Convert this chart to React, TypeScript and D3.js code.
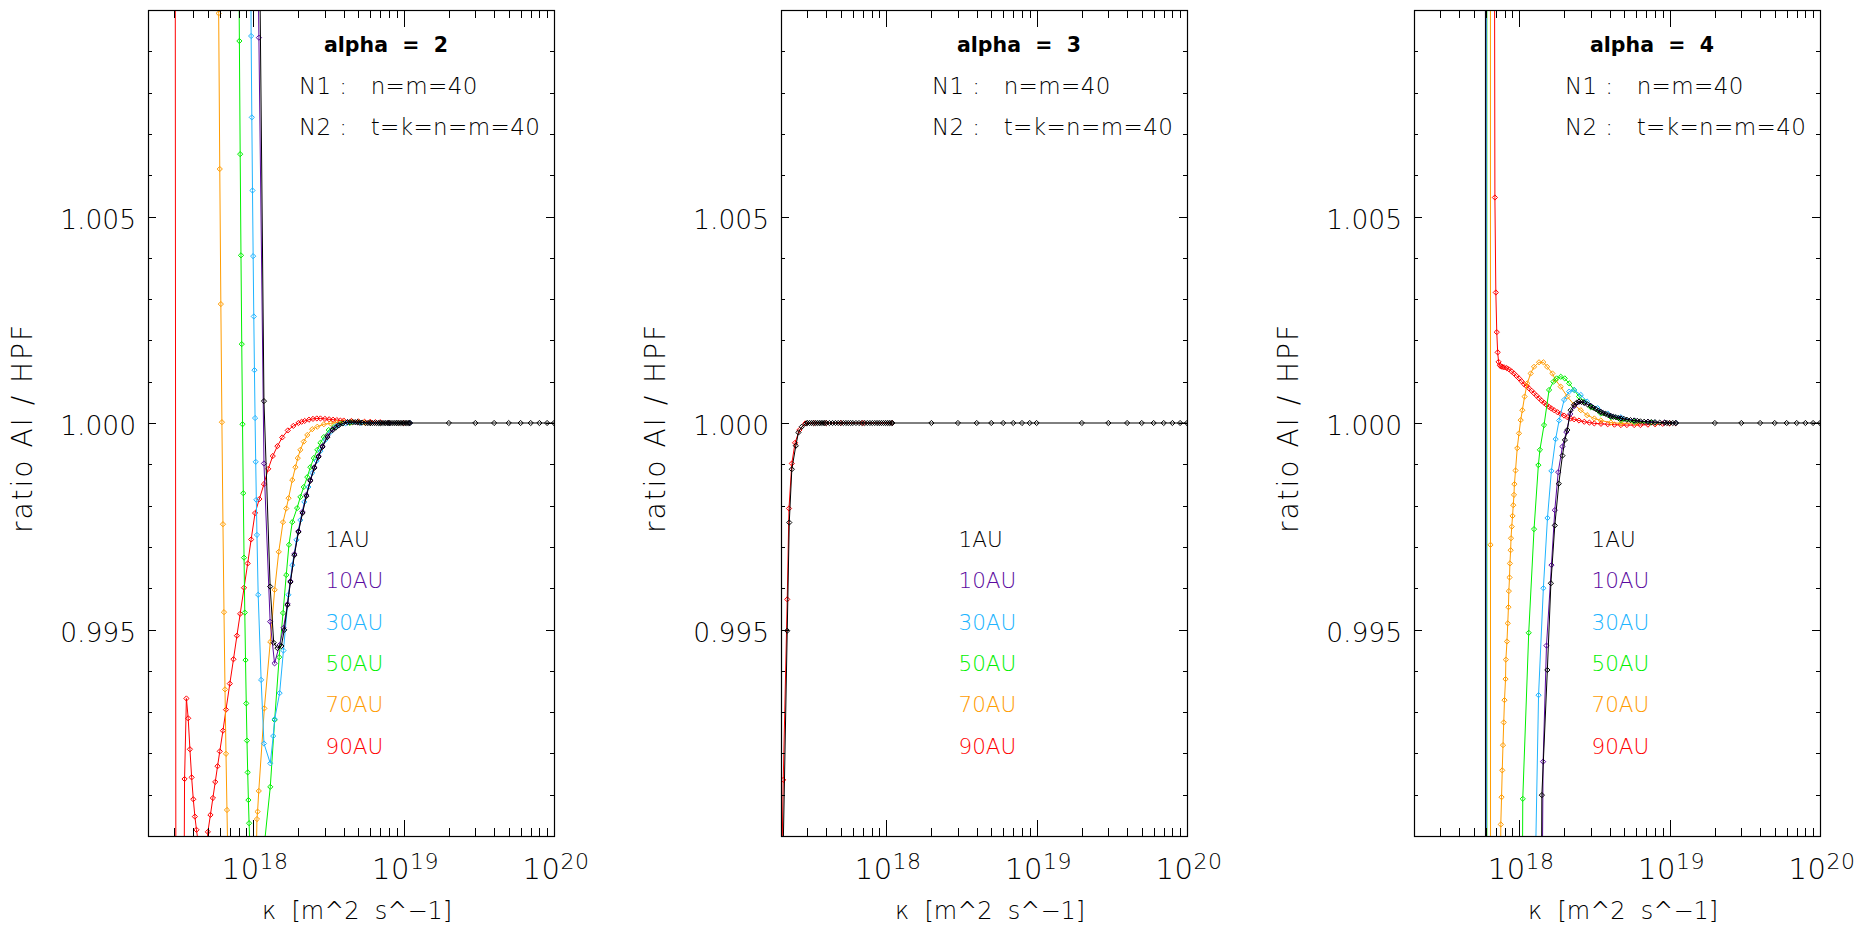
import * as d3 from "d3";
import React, { useEffect, useRef } from "react";

type Pt = [number, number];

// kappa is written in units of 1e17 m^2 s^-1, the second value is the ratio AI / HPF
const KAPPA_UNIT = 1e17;

const alphas = [2, 3, 4];
const stations = ["1AU", "10AU", "30AU", "50AU", "70AU", "90AU"];
const stationColors = ["#000000", "#5b0aa0", "#20b4ff", "#00f000", "#ff9c00", "#ff0000"];
const yTickLabels = [0.995, 1.0, 1.005];
const xTickPowers = [18, 19, 20];
const sparseTail: Pt[] = [[200, 1], [300, 1], [400, 1], [500, 1], [600, 1], [700, 1], [800, 1], [900, 1], [1000, 1]];
// flat, densely sampled stretch at ratio 1 before the sparse tail
const flatDense: Pt[] = [[56, 1], [58, 1], [60, 1], [62, 1], [64, 1], [66, 1], [68, 1], [70, 1], [72, 1], [74, 1], [76, 1],
    [78, 1], [80, 1], [82.5, 1], [85, 1], [87.5, 1], [90, 1], [92.5, 1], [95, 1], [97.5, 1], [100, 1], [102.5, 1], [105, 1],
    [107.5, 1], [110, 1]];

// ---- alpha = 2
const a2_1AU: Pt[] = [[11.0, 1.012], [11.8, 1.00053], [12.97, 0.99604], [13.7, 0.99468], [14.5, 0.99455], [15.4, 0.9946],
    [16.1, 0.99499], [16.9, 0.99559], [17.7, 0.99615], [18.8, 0.9968], [20.0, 0.99736], [21.3, 0.99782], [22.6, 0.99823],
    [24.0, 0.9986], [25.5, 0.99891], [27.2, 0.99918], [28.9, 0.99942], [31.2, 0.99966], [33.8, 0.99983], [35.4, 0.99989],
    [37.0, 0.99994], [39.5, 0.99999], [42.4, 1.00002], [44, 1.00002], [46, 1.00002], [47.7, 1.00002], [49.4, 1.00002],
    [51, 1.00001], [53, 1.00001], ...flatDense, ...sparseTail];
const a2_10AU: Pt[] = [[10.7, 1.012], [10.92, 1.00933], [11.8, 0.99902], [12.97, 0.99519], [13.88, 0.99418], [14.96, 0.99462],
    [15.92, 0.99504], [16.94, 0.99562], [17.69, 0.99617], [18.81, 0.99683], [20.0, 0.99738], [21.26, 0.99785], [22.57, 0.99826],
    [24.04, 0.99862], [25.5, 0.99893], [27.2, 0.9992], [28.9, 0.99944], [31.2, 0.99969], [33.8, 0.99985], [37.0, 0.99995],
    [42.4, 1.00002], [49.4, 1.00002], [60, 1], [80, 1], [110, 1]];
const a2_30AU: Pt[] = [[9.6, 1.012], [9.7, 1.00937], [9.8, 1.0074], [9.9, 1.00563], [10.0, 1.00404], [10.1, 1.00258], [10.2, 1.00128],
    [10.3, 1.00012], [10.4, 0.99906], [10.5, 0.99814], [10.6, 0.99729], [10.8, 0.99584], [11.3, 0.99378], [11.8, 0.99224],
    [13.0, 0.99176], [13.6, 0.99242], [13.9, 0.99283], [15.0, 0.99346], [15.9, 0.99449], [17.15, 0.99584], [18.2, 0.99656],
    [19.4, 0.99717], [20.6, 0.99765], [21.9, 0.99809], [23.3, 0.99845], [24.7, 0.99879], [26.4, 0.99908], [28.0, 0.99932],
    [30.2, 0.99959], [32.7, 0.99978], [35.8, 0.99993], [41.2, 0.99999], [52, 1], [70, 1], [90, 1], [110, 1]];
const a2_50AU: Pt[] = [[8.0, 1.012], [8.1, 1.00925], [8.2, 1.00651], [8.3, 1.00406], [8.4, 1.00191], [8.5, 0.99997], [8.6, 0.9983],
    [8.7, 0.99674], [8.8, 0.99541], [8.9, 0.99426], [9.0, 0.99321], [9.1, 0.99231], [9.2, 0.99154], [9.3, 0.99087], [9.4, 0.99031],
    [9.5, 0.9898], [11.9, 0.98983], [13.0, 0.99119], [13.9, 0.99281], [14.9, 0.99433], [15.8, 0.9954], [16.6, 0.99632],
    [17.3, 0.99705], [18.2, 0.9976], [19.6, 0.99794], [20.6, 0.99821], [21.7, 0.99845], [22.9, 0.99869], [24.0, 0.99893],
    [25.3, 0.99915], [26.7, 0.99935], [28.0, 0.99952], [29.5, 0.99966], [31.8, 0.99983], [34.4, 0.9999], [38.1, 0.99998],
    [44, 1], [60, 1], [80, 1], [110, 1]];
const a2_70AU: Pt[] = [[5.8, 1.0135], [5.9, 1.00992], [6.0, 1.00615], [6.1, 1.00288], [6.2, 1.00002], [6.3, 0.99755], [6.4, 0.99542],
    [6.5, 0.99355], [6.6, 0.99199], [6.7, 0.99063], [6.8, 0.9893], [10.5, 0.9895], [10.6, 0.99041], [10.7, 0.99059], [10.9, 0.99109],
    [11.87, 0.99309], [13.0, 0.9947], [13.9, 0.99596], [14.8, 0.99688], [15.8, 0.9976], [16.6, 0.99793], [17.2, 0.99818],
    [18.2, 0.99862], [19.1, 0.99893], [19.8, 0.99915], [20.6, 0.99935], [21.7, 0.99955], [22.9, 0.99971], [24.7, 0.99985],
    [26.7, 0.99991], [29.5, 0.99997], [32.7, 0.99999], [36, 1.00001], [40, 1.00002], [45, 1.00002], [50, 1.00002],
    [55, 1.00001], [60, 1.00001], [70, 1], [90, 1], [110, 1]];
const a2_90AU: Pt[] = [[3.0, 1.04], [3.1, 0.96], [3.3, 0.97], [3.5, 0.99138], [3.6, 0.99333], [3.7, 0.99285], [3.8, 0.9921],
    [3.9, 0.99142], [4.0, 0.99089], [4.1, 0.99047], [4.2, 0.99015], [4.4, 0.9896], [4.8, 0.9892], [5.0, 0.9901], [5.2, 0.99051],
    [5.4, 0.99092], [5.6, 0.99131], [5.8, 0.99169], [6.0, 0.99205], [6.3, 0.99255], [6.6, 0.99306], [7.0, 0.99369], [7.4, 0.99428],
    [7.8, 0.99485], [8.2, 0.99538], [8.7, 0.99601], [9.2, 0.9966], [9.7, 0.99718], [10.3, 0.99782], [11, 0.99816], [11.8, 0.99852],
    [12.6, 0.99889], [13.5, 0.9992], [14.5, 0.99944], [15.6, 0.99965], [17, 0.99982], [18.5, 0.99993], [20, 1.0], [21, 1.00003],
    [22, 1.00005], [23.5, 1.00008], [25, 1.0001], [26.5, 1.00011], [28, 1.00011], [30, 1.0001], [32, 1.00009], [34, 1.00008],
    [36, 1.00007], [38, 1.00006], [40, 1.00006], [45, 1.00005], [50, 1.00004], [55, 1.00003], [60, 1.00003], [65, 1.00002],
    [70, 1.00002], [80, 1.00001], [90, 1], [100, 1], [110, 1]];

// ---- alpha = 3 (all distances lie on top of each other, only 1AU and 90AU can be seen)
const a3_1AU: Pt[] = [[2.03, 0.9881], [2.2, 0.99497], [2.27, 0.99759], [2.36, 0.99888], [2.51, 0.99945], [2.61, 0.99977],
    [2.75, 0.99991], [2.94, 0.99999], [3.0, 1], [3.1, 1], [3.2, 1], [3.3, 1], [3.4, 1], [3.5, 1], [3.6, 1], [3.7, 1], [3.8, 1],
    [3.9, 1], [4.0, 1], [4.2, 1], [4.4, 1], [4.6, 1], [4.8, 1], [5.0, 1], [5.2, 1], [5.4, 1], [5.6, 1], [5.8, 1], [6.0, 1],
    [6.3, 1], [6.6, 1], [6.9, 1], [7.2, 1], [7.5, 1], [7.8, 1], [8.1, 1], [8.4, 1], [8.7, 1], [9.0, 1], [9.3, 1], [9.6, 1],
    [9.9, 1], [10.2, 1], [10.5, 1], [10.8, 1], [11.0, 1], [20, 1], [30, 1], [40, 1], [50, 1], [60, 1], [70, 1], [80, 1], [90, 1],
    [100, 1], ...sparseTail];
const a3_90AU: Pt[] = [[2.02, 0.989], [2.07, 0.99136], [2.2, 0.99573], [2.26, 0.99793], [2.36, 0.99902], [2.48, 0.99952],
    [2.65, 0.99983], [2.9, 0.99999], [3.3, 1], [4.0, 1], [5.0, 1], [7.0, 1], [11.0, 1]];

// ---- alpha = 4
const a4_1AU: Pt[] = [[5.96, 1.05], [5.98, 0.95], [13.9, 0.985], [14.16, 0.99099], [15.4, 0.99402], [16.26, 0.99612],
    [17.26, 0.99752], [18.34, 0.99853], [19.4, 0.99921], [20.15, 0.99959], [20.9, 0.99983], [21.98, 1.00031], [23.2, 1.00044],
    [24.1, 1.00049], [25.0, 1.00052], [26, 1.00051], [27.1, 1.00049], [28.5, 1.00045], [29.9, 1.00041], [31, 1.00037],
    [32.3, 1.00034], [33.6, 1.0003], [34.9, 1.00027], [36.2, 1.00024], [37.6, 1.00022], [39.1, 1.00019], [40.7, 1.00017],
    [42.3, 1.00015], [44, 1.00014], [45.7, 1.00012], [47.5, 1.00011], [49.7, 1.0001], [52, 1.00008], [55, 1.00007],
    [58.2, 1.00006], [61, 1.00005], [64, 1.00004], [67.8, 1.00003], [71.8, 1.00003], [75.8, 1.00002], [80, 1.00002],
    [86, 1.00001], [92.8, 1.00001], [96, 1], [100, 1], [105, 1], [110, 1], ...sparseTail];
const a4_10AU: Pt[] = [[6.0, 1.05], [6.02, 0.95], [14.0, 0.985], [14.43, 0.9918], [15.2, 0.99461], [16.4, 0.99656],
    [17.26, 0.99789], [18.18, 0.99881], [19.4, 0.99943], [20.6, 0.99978], [21.9, 1.00022], [23.3, 1.00041], [25.0, 1.00051],
    [27.1, 1.00049], [29.9, 1.00041], [34.9, 1.00027], [40.7, 1.00017], [47.5, 1.00011], [58.2, 1.00006], [71.8, 1.00003],
    [92.8, 1.00001], [110, 1]];
const a4_30AU: Pt[] = [[6.04, 1.05], [6.06, 0.95], [12.2, 0.985], [13.46, 0.99341], [14.49, 0.996], [15.43, 0.9977],
    [16.38, 0.99884], [17.48, 0.99961], [18.43, 1.00006], [19.9, 1.00056], [21.5, 1.00076], [23.2, 1.0008], [25.7, 1.00068],
    [28.3, 1.00052], [33.2, 1.00036], [38.8, 1.00023], [47.5, 1.00014], [58.2, 1.00006], [79.6, 1.00001], [110, 1]];
const a4_50AU: Pt[] = [[6.09, 1.05], [6.11, 0.95], [10.4, 0.985], [10.57, 0.9909], [11.58, 0.99492], [12.56, 0.99743],
    [13.42, 0.99898], [13.74, 0.99935], [14.64, 0.99995], [15.81, 1.0008], [16.89, 1.001], [17.74, 1.00108], [18.9, 1.00112],
    [20.1, 1.00108], [21.5, 1.00096], [23.2, 1.0008], [25.0, 1.00064], [27.1, 1.00052], [29.9, 1.00038], [34.9, 1.00023],
    [40.7, 1.00014], [47.5, 1.00007], [58.2, 1.00003], [75, 1.00001], [110, 1]];
const a4_70AU: Pt[] = [[6.42, 1.05], [6.45, 0.99705], [6.48, 0.95], [7.5, 0.985], [7.55, 0.99028], [7.64, 0.99094],
    [7.72, 0.99159], [7.81, 0.9922], [7.9, 0.99275], [7.99, 0.99329], [8.12, 0.9938], [8.16, 0.99427], [8.3, 0.99471],
    [8.4, 0.99515], [8.49, 0.99554], [8.54, 0.99593], [8.63, 0.99626], [8.68, 0.9966], [8.78, 0.99692], [8.83, 0.99721],
    [8.93, 0.99749], [9.04, 0.99775], [9.14, 0.99801], [9.24, 0.99826], [9.3, 0.99852], [9.46, 0.99885], [9.71, 0.99939],
    [9.98, 0.99975], [10.24, 1.00007], [10.5, 1.00031], [10.87, 1.00064], [11.32, 1.00096], [11.93, 1.0012], [12.56, 1.00136],
    [13.56, 1.00147], [14.49, 1.00147], [15.35, 1.00136], [16.64, 1.0012], [17.46, 1.00104], [18.9, 1.00088], [20.9, 1.00064],
    [23.2, 1.00044], [25.7, 1.00031], [28.3, 1.00019], [31.6, 1.00011], [34.9, 1.00006], [40.7, 1.00001], [47.5, 0.99999],
    [60, 1], [80, 1], [110, 1]];
const a4_90AU: Pt[] = [[6.8, 1.02], [6.9, 1.00546], [7.0, 1.00316], [7.1, 1.0022], [7.2, 1.00171], [7.3, 1.00148], [7.44, 1.0014],
    [7.55, 1.00137], [7.72, 1.00136], [7.93, 1.00135], [8.25, 1.00133], [8.56, 1.0013], [8.9, 1.00125], [9.24, 1.0012],
    [9.6, 1.00114], [9.98, 1.00108], [10.38, 1.00101], [10.78, 1.00094], [11.2, 1.00089], [11.63, 1.00084], [12.1, 1.00078],
    [12.56, 1.00072], [13.06, 1.00066], [13.56, 1.0006], [14.1, 1.00054], [14.64, 1.00049], [15.2, 1.00044], [15.81, 1.00039],
    [16.4, 1.00035], [17.08, 1.00031], [18.0, 1.00026], [18.9, 1.00022], [19.9, 1.00018], [20.9, 1.00014], [22.0, 1.00011],
    [23.2, 1.00009], [25.0, 1.00006], [27.1, 1.00003], [29.3, 1.00001], [31.6, 0.99999], [35, 0.99998], [38.8, 0.99997],
    [43, 0.99996], [47.5, 0.99995], [52, 0.99995], [58.2, 0.99995], [64, 0.99995], [71.8, 0.99996], [80, 0.99997], [90, 0.99998],
    [100, 0.99999], [110, 0.99999]];

const panels = [
    { alpha: alphas[0], series: [a2_1AU, a2_10AU, a2_30AU, a2_50AU, a2_70AU, a2_90AU] },
    { alpha: alphas[1], series: [a3_1AU, a3_1AU, a3_1AU, a3_1AU, a3_1AU, a3_90AU] },
    { alpha: alphas[2], series: [a4_1AU, a4_10AU, a4_30AU, a4_50AU, a4_70AU, a4_90AU] },
];

const FONT = "'DejaVu Sans', 'Liberation Sans', sans-serif";
const frameLefts = [148, 781, 1414];
const frameWidth = 406;
const frameTop = 10;
const frameBottom = 836;
const diamond = "M0,-2.6L2.6,0L0,2.6L-2.6,0Z";

function drawPanel(svg: any, panel: { alpha: number, series: Pt[][] }, i: number) {
    const left = frameLefts[i];
    const right = left + frameWidth;
    const x = d3.scaleLog().domain([2e17, 1e20]).range([left, right]);
    const y = d3.scaleLinear().domain([0.99, 1.01]).range([frameBottom, frameTop]);

    const clipId = "clip" + i;
    svg.append("clipPath").attr("id", clipId)
        .append("rect")
        .attr("x", left).attr("y", frameTop)
        .attr("width", frameWidth).attr("height", frameBottom - frameTop);

    const plot = svg.append("g").attr("clip-path", `url(#${clipId})`);
    const line = d3.line<Pt>().x(d => x(d[0] * KAPPA_UNIT)).y(d => y(d[1]));

    // 90AU first, 1AU drawn last so it lies on top
    for (let s = stations.length - 1; s >= 0; s--) {
        const data = panel.series[s];
        // a series that is exactly the 1AU one is hidden under it anyway
        if (s > 0 && data === panel.series[0]) continue;
        plot.append("path")
            .attr("d", line(data))
            .attr("fill", "none")
            .attr("stroke", stationColors[s])
            .attr("stroke-width", 1);
        plot.selectAll(null)
            .data(data)
            .enter().append("path")
            .attr("d", diamond)
            .attr("transform", (d: Pt) => `translate(${x(d[0] * KAPPA_UNIT)},${y(d[1])})`)
            .attr("fill", "none")
            .attr("stroke", stationColors[s])
            .attr("stroke-width", 1);
    }

    // frame
    svg.append("rect")
        .attr("x", left + 0.5).attr("y", frameTop + 0.5)
        .attr("width", frameWidth).attr("height", frameBottom - frameTop)
        .attr("fill", "none").attr("stroke", "#000").attr("stroke-width", 1.2);

    const ticks = svg.append("g").attr("stroke", "#000").attr("stroke-width", 1).attr("shape-rendering", "crispEdges");

    // x ticks, log decades
    const majorLen = 16.5, minorLen = 8.3;
    const xTicks: { v: number, major: boolean }[] = [];
    [17, 18, 19].forEach(e => {
        [1, 2, 3, 4, 5, 6, 7, 8, 9].forEach(m => {
            const v = m * Math.pow(10, e);
            if (v > 2e17 && v < 1e20) xTicks.push({ v, major: m === 1 });
        });
    });
    xTicks.forEach(t => {
        const px = Math.round(x(t.v)) + 0.5;
        const len = t.major ? majorLen : minorLen;
        ticks.append("line").attr("x1", px).attr("x2", px).attr("y1", frameBottom).attr("y2", frameBottom - len);
        ticks.append("line").attr("x1", px).attr("x2", px).attr("y1", frameTop).attr("y2", frameTop + len);
    });

    // y ticks every 0.001
    d3.range(1, 20).forEach(k => {
        const v = 0.99 + k * 0.001;
        const py = Math.round(y(v)) + 0.5;
        const len = k % 5 === 0 ? 8.2 : 4.2;
        ticks.append("line").attr("x1", left).attr("x2", left + len).attr("y1", py).attr("y2", py);
        ticks.append("line").attr("x1", right).attr("x2", right - len).attr("y1", py).attr("y2", py);
    });

    const labels = svg.append("g").attr("font-family", FONT).attr("font-weight", 200).attr("fill", "#000");

    yTickLabels.forEach(v => {
        labels.append("text")
            .attr("x", left - 12)
            .attr("y", y(v) + 12)
            .attr("text-anchor", "end")
            .attr("font-size", 26.5)
            .text(v.toFixed(3));
    });

    xTickPowers.forEach(p => {
        const t = labels.append("text")
            .attr("x", x(Math.pow(10, p)) + 2)
            .attr("y", 879)
            .attr("text-anchor", "middle")
            .attr("font-size", 29)
            .attr("letter-spacing", 0.5);
        t.append("tspan").text("10");
        t.append("tspan").attr("font-size", 22).attr("dy", -10).text(String(p));
    });

    labels.append("text")
        .attr("x", left + 209)
        .attr("y", 919)
        .attr("text-anchor", "middle")
        .attr("font-size", 24)
        .style("white-space", "pre")
        .text("\u03ba  [m^2  s^\u22121]");

    labels.append("text")
        .attr("transform", `translate(${left - 116},${428}) rotate(-90)`)
        .attr("text-anchor", "middle")
        .attr("font-size", 28)
        .attr("letter-spacing", 2)
        .style("white-space", "pre")
        .text("ratio AI / HPF");

    svg.append("text")
        .attr("x", left + 176)
        .attr("y", 52)
        .attr("font-family", FONT)
        .attr("font-weight", "bold")
        .attr("font-size", 20.5)
        .style("white-space", "pre")
        .text(`alpha  =  ${panel.alpha}`);

    labels.append("text")
        .attr("x", left + 151).attr("y", 94)
        .attr("font-size", 23).attr("letter-spacing", 0.4)
        .style("white-space", "pre")
        .text("N1 :   n=m=40");
    labels.append("text")
        .attr("x", left + 151).attr("y", 135)
        .attr("font-size", 23).attr("letter-spacing", 0.4)
        .style("white-space", "pre")
        .text("N2 :   t=k=n=m=40");

    stations.forEach((name, s) => {
        labels.append("text")
            .attr("x", left + 177.5)
            .attr("y", 547 + s * 41.3)
            .attr("font-size", 21.5)
            .attr("fill", stationColors[s])
            .text(name);
    });
}

function drawChart(svgRef: React.RefObject<SVGSVGElement>) {
    const svg = d3.select(svgRef.current);
    svg.selectAll("*").remove();
    svg.append("rect").attr("width", 1856).attr("height", 933).attr("fill", "#fff");
    panels.forEach((p, i) => drawPanel(svg, p, i));
}

export default function App() {
    const svg = useRef<SVGSVGElement>(null);
    useEffect(() => {
        drawChart(svg);
    });
    return (
        <svg ref={svg} width={1856} height={933}
            style={{ position: "absolute", left: 0, top: 0, display: "block" }} />
    );
}
